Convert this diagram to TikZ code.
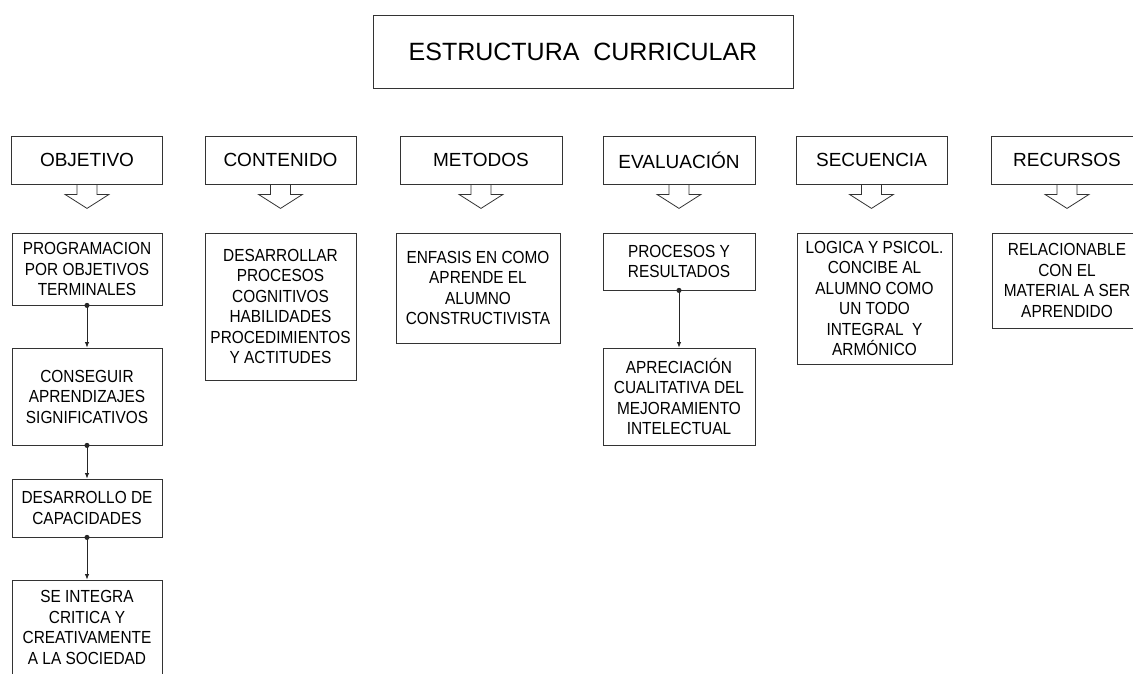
\documentclass[tikz,border=0pt]{standalone}
\usepackage{fontspec}
\setmainfont{Liberation Sans}
\newfontfamily\bodyfont[FakeStretch=0.88]{Liberation Sans}
\usetikzlibrary{arrows.meta}

\begin{document}
\begin{tikzpicture}
  [x=1pt,y=-1pt,
   every node/.style={draw=black!80,line width=.8pt,rectangle,align=center,inner sep=2pt},
   titlebox/.style={minimum width=420pt,minimum height=73pt,font=\fontsize{25}{30}\selectfont},
   headbox/.style={minimum width=151pt,minimum height=48pt,font=\fontsize{19}{22}\selectfont},
   bodybox/.style={font=\bodyfont\fontsize{17.5}{20.5}\selectfont},
   link/.style={draw=black!85,line width=.9pt,{Circle[length=5pt]}-{Latex[length=5.5pt,width=4.5pt]},shorten <=-2.5pt}]
  \useasboundingbox (0,0) rectangle (1133,673);
  \clip (0,0) rectangle (1133,673);

  \node[titlebox] (est) at (583,51.5) {ESTRUCTURA\ \ CURRICULAR};

  \node[headbox] (obj) at (87,160) {OBJETIVO};
  \node[headbox] (cont) at (280.5,160) {CONTENIDO};
  \node[headbox,minimum width=162pt] (met) at (481,160) {METODOS};
  \node[headbox,minimum width=152pt] (eval) at (679,160) {EVALUACIÓN};
  \node[headbox] (sec) at (871.5,160) {SECUENCIA};
  \node[headbox,minimum width=152pt] (rec) at (1067,160) {RECURSOS};

  \foreach \n in {obj,cont,met,eval,sec,rec}
    \draw[draw=black!80,line width=.8pt] (\n.south) ++(-10,0) -- ++(0,10) -- ++(-12,0)
      -- ++(22,14) -- ++(22,-14) -- ++(-12,0) -- ++(0,-10);

  \node[bodybox,minimum width=150pt,minimum height=72pt] (obj1) at (87,269) {PROGRAMACION\\POR OBJETIVOS\\TERMINALES};
  \node[bodybox,minimum width=150pt,minimum height=97pt] (obj2) at (87,396.5) {CONSEGUIR\\APRENDIZAJES\\SIGNIFICATIVOS};
  \node[bodybox,minimum width=150pt,minimum height=58pt] (obj3) at (87,508) {DESARROLLO DE\\CAPACIDADES};
  \node[bodybox,minimum width=150pt,minimum height=95pt] (obj4) at (87,627.5) {SE INTEGRA\\CRITICA Y\\CREATIVAMENTE\\A LA SOCIEDAD};

  \node[bodybox,minimum width=151pt,minimum height=147pt] (cont1) at (280.5,306.5) {DESARROLLAR\\PROCESOS\\COGNITIVOS\\HABILIDADES\\PROCEDIMIENTOS\\Y ACTITUDES};
  \node[bodybox,minimum width=164pt,minimum height=110pt] (met1) at (478,288) {ENFASIS EN COMO\\APRENDE EL\\ALUMNO\\CONSTRUCTIVISTA};
  \node[bodybox,minimum width=152pt,minimum height=57pt] (eval1) at (679,261.5) {PROCESOS Y\\RESULTADOS};
  \node[bodybox,minimum width=152pt,minimum height=97pt] (eval2) at (679,396.5) {APRECIACIÓN\\CUALITATIVA DEL\\MEJORAMIENTO\\INTELECTUAL};
  \node[bodybox,minimum width=155pt,minimum height=131pt] (sec1) at (874.5,298.5) {LOGICA Y PSICOL.\\CONCIBE AL\\ALUMNO COMO\\UN TODO\\INTEGRAL\ \ Y\\ARMÓNICO};
  \node[bodybox,minimum width=150pt,minimum height=95pt] (rec1) at (1067,280.5) {RELACIONABLE\\CON EL\\MATERIAL A SER\\APRENDIDO};

  \foreach \from/\to in {obj1/obj2, obj2/obj3, obj3/obj4, eval1/eval2}
    \draw[link] (\from.south) -- (\to.north);

\end{tikzpicture}
\end{document}
